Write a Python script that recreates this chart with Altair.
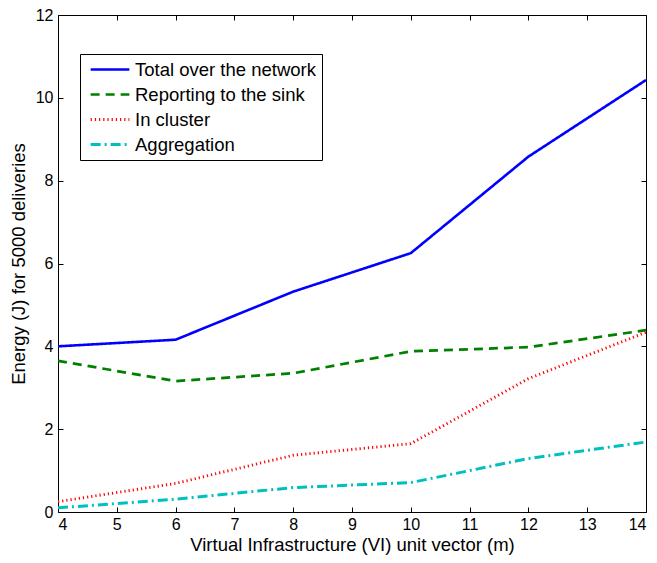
import altair as alt
import pandas as pd

x_vals = [4, 6, 8, 10, 12, 14]
total = [4.0, 4.16, 5.32, 6.25, 8.58, 10.43]
reporting = [3.65, 3.16, 3.35, 3.88, 3.98, 4.39]
in_cluster = [0.25, 0.69, 1.37, 1.65, 3.22, 4.34]
aggregation = [0.10, 0.31, 0.59, 0.71, 1.29, 1.69]

series_names = ["Total over the network", "Reporting to the sink", "In cluster", "Aggregation"]
series_vals = [total, reporting, in_cluster, aggregation]
colors = ["#0000FF", "#008000", "#FF0000", "#00BFBF"]
dashes = [[1, 0], [9, 6], [1.2, 3], [10, 4, 2, 4]]
widths = [2.6, 3.0, 1.1, 2.6]

x_ticks = list(range(4, 15))
y_ticks = list(range(0, 13, 2))

rows = []
for name, vals in zip(series_names, series_vals):
    for xv, yv in zip(x_vals, vals):
        rows.append({"x": xv, "y": yv, "series": name})
df = pd.DataFrame(rows)

FONT = "Liberation Sans"
axis_style = dict(labelFont=FONT, labelFontSize=16, labelColor="black", titleFont=FONT,
                  titleFontSize=18.5, titleFontWeight="normal", titleColor="black",
                  tickColor="black", domain=False, grid=False, tickSize=5, offset=-5)

xscale = alt.Scale(domain=[4, 14], nice=False, zero=False)
yscale = alt.Scale(domain=[0, 12], nice=False)

lines = alt.Chart(df).mark_line(clip=True).encode(
    x=alt.X("x:Q", scale=xscale,
            axis=alt.Axis(values=x_ticks, title="Virtual Infrastructure (VI) unit vector (m)",
                          orient="bottom", labelPadding=4, titlePadding=3, **axis_style)),
    y=alt.Y("y:Q", scale=yscale,
            axis=alt.Axis(values=y_ticks, title="Energy (J) for 5000 deliveries",
                          orient="left", labelPadding=5, titlePadding=7, **axis_style)),
    color=alt.Color("series:N", scale=alt.Scale(domain=series_names, range=colors),
                    legend=alt.Legend(title=None, orient="none", legendX=22, legendY=39,
                                      symbolType="stroke", symbolSize=1500, clipHeight=19,
                                      rowPadding=6, labelFontSize=18.5, labelFont=FONT,
                                      labelColor="black", labelOffset=4, labelLimit=400,
                                      symbolOffset=3,
                                      strokeColor="black", padding=6, fillColor="white",
                                      symbolStrokeWidth=2.2)),
    strokeDash=alt.StrokeDash("series:N", scale=alt.Scale(domain=series_names, range=dashes)),
    strokeWidth=alt.StrokeWidth("series:N", scale=alt.Scale(domain=series_names, range=widths)),
)

mirror = alt.Chart(df).mark_line(opacity=0).encode(
    x=alt.X("x:Q", scale=xscale,
            axis=alt.Axis(values=x_ticks, title=None, labels=False, orient="top", **axis_style)),
    y=alt.Y("y:Q", scale=yscale,
            axis=alt.Axis(values=y_ticks, title=None, labels=False, orient="right", **axis_style)),
    detail="series:N",
)

chart = alt.layer(lines, mirror).resolve_axis(x="independent", y="independent").properties(
    width=588, height=497,
    autosize=alt.AutoSizeParams(type="none"),
    padding={"left": 50, "top": 7, "right": 3, "bottom": 43},
    background="white",
).configure_view(stroke="black", strokeWidth=1)

chart.save("out.html", embed_options={"renderer": "svg", "actions": False})
